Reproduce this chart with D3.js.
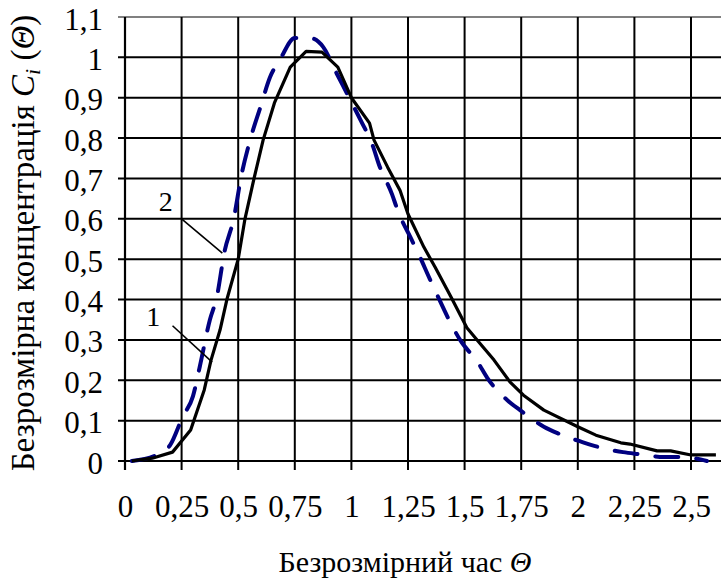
<!DOCTYPE html>
<html>
  <head>
    <meta charset="utf-8" />
    <script src="https://d3js.org/d3.v7.min.js"></script>
    <style>
      body { margin: 0; background: #fff; }
    </style>
  </head>
  <body>
    <div id="chart"></div>
    <script>
      // крива 1 (суцільна) та крива 2 (штрихова)
      const theta1 = [0.03, 0.12, 0.21, 0.29, 0.35, 0.38, 0.42, 0.45, 0.50, 0.53, 0.57, 0.61, 0.66, 0.73, 0.80, 0.87, 0.94,
                      1.00, 1.08, 1.10, 1.16, 1.215, 1.25, 1.32, 1.37, 1.44, 1.51, 1.57, 1.63, 1.70, 1.76, 1.85, 2.00, 2.08,
                      2.19, 2.23, 2.35, 2.41, 2.50, 2.61];
      const c1 = [0, 0.007, 0.022, 0.077, 0.176, 0.25, 0.325, 0.40, 0.50, 0.60, 0.70, 0.795, 0.887, 0.976, 1.015, 1.013, 0.976,
                  0.90, 0.837, 0.795, 0.728, 0.67, 0.612, 0.53, 0.48, 0.406, 0.33, 0.29, 0.25, 0.196, 0.163, 0.126, 0.085, 0.064,
                  0.045, 0.042, 0.025, 0.025, 0.015, 0.015];

      const theta2 = [0.03, 0.14, 0.20, 0.255, 0.30, 0.33, 0.375, 0.405, 0.44, 0.48, 0.515, 0.55, 0.60, 0.64, 0.685, 0.75, 0.817,
                      0.875, 0.935, 0.99, 1.04, 1.095, 1.12, 1.18, 1.205, 1.26, 1.295, 1.347, 1.38, 1.44, 1.48, 1.56, 1.60, 1.69,
                      1.745, 1.85, 1.91, 2.02, 2.09, 2.20, 2.27, 2.38, 2.46, 2.57];
      const c2 = [0, 0.015, 0.04, 0.11, 0.16, 0.233, 0.35, 0.405, 0.52, 0.60, 0.71, 0.79, 0.88, 0.95, 0.995, 1.048, 1.048,
                  1.026, 0.96, 0.90, 0.845, 0.78, 0.737, 0.66, 0.62, 0.555, 0.515, 0.45, 0.41, 0.34, 0.30, 0.243, 0.206, 0.15,
                  0.126, 0.085, 0.069, 0.047, 0.035, 0.022, 0.017, 0.01, 0.01, 0];

      const xTicks = [0, 0.25, 0.5, 0.75, 1, 1.25, 1.5, 1.75, 2, 2.25, 2.5];
      const xTickLabels = ["0", "0,25", "0,5", "0,75", "1", "1,25", "1,5", "1,75", "2", "2,25", "2,5"];
      const yTicks = [0, 0.1, 0.2, 0.3, 0.4, 0.5, 0.6, 0.7, 0.8, 0.9, 1, 1.1];
      const yTickLabels = ["0", "0,1", "0,2", "0,3", "0,4", "0,5", "0,6", "0,7", "0,8", "0,9", "1", "1,1"];

      // виноски з номерами кривих (в координатах даних)
      const callouts = [
        { label: "1", text: [0.125, 0.335], line: [[0.21, 0.335], [0.385, 0.245]] },
        { label: "2", text: [0.18, 0.62], line: [[0.25, 0.6], [0.43, 0.515]] }
      ];

      const W = 721, H = 583;
      const FONT = "Liberation Serif";
      const svg = d3.select("#chart").append("svg")
        .attr("width", W)
        .attr("height", H)
        .style("font-family", FONT);

      const x = d3.scaleLinear().domain([0, 2.5]).range([125, 691]);
      const y = d3.scaleLinear().domain([0, 1.1]).range([461, 17]);
      const fs = 31;

      // сітка
      const grid = svg.append("g");
      grid.selectAll(".hl").data(yTicks).enter().append("line")
        .attr("x1", 118).attr("x2", W)
        .attr("y1", d => y(d)).attr("y2", d => y(d))
        .attr("stroke", d => d === 1.1 ? "#808080" : "#000")
        .attr("stroke-width", 2);
      grid.selectAll(".vl").data(xTicks).enter().append("line")
        .attr("x1", d => x(d)).attr("x2", d => x(d))
        .attr("y1", y(1.1)).attr("y2", y(0) + 9)
        .attr("stroke", "#000")
        .attr("stroke-width", d => d === 0 ? 2.2 : 2);

      // осі з підписами
      const xAxis = svg.append("g")
        .attr("transform", "translate(0," + y(0) + ")")
        .call(d3.axisBottom(x).tickValues(xTicks).tickSize(0).tickFormat((d, i) => xTickLabels[i]));
      xAxis.attr("font-family", null).attr("font-size", null);
      xAxis.select(".domain").remove();
      xAxis.selectAll("text")
        .attr("y", 56).attr("dy", null)
        .style("font-size", fs + "px")
        .style("font-family", FONT);

      const yAxis = svg.append("g")
        .attr("transform", "translate(" + x(0) + ",0)")
        .call(d3.axisLeft(y).tickValues(yTicks).tickSize(0).tickFormat((d, i) => yTickLabels[i]));
      yAxis.attr("font-family", null).attr("font-size", null);
      yAxis.select(".domain").remove();
      yAxis.selectAll("text")
        .attr("x", -22).attr("dy", null).attr("y", 12)
        .style("font-size", fs + "px")
        .style("font-family", FONT);

      // криві
      const line = d3.line().x(d => x(d[0])).y(d => y(d[1]));
      svg.append("path")
        .datum(d3.zip(theta2, c2))
        .attr("d", line.curve(d3.curveMonotoneX))
        .attr("fill", "none")
        .attr("stroke", "#000080")
        .attr("stroke-width", 4)
        .attr("stroke-linecap", "round")
        .attr("stroke-dasharray", "23,18");
      svg.append("path")
        .attr("d", d3.line().x(d => x(d[0])).y(d => y(d[1]))(d3.zip(theta1, c1)))
        .attr("fill", "none")
        .attr("stroke", "#000")
        .attr("stroke-width", 3.2)
        .attr("stroke-linejoin", "round");

      // виноски
      callouts.forEach(c => {
        svg.append("line")
          .attr("x1", x(c.line[0][0])).attr("y1", y(c.line[0][1]))
          .attr("x2", x(c.line[1][0])).attr("y2", y(c.line[1][1]))
          .attr("stroke", "#000").attr("stroke-width", 1.6);
        svg.append("text")
          .attr("x", x(c.text[0])).attr("y", y(c.text[1]))
          .attr("text-anchor", "middle")
          .style("font-family", FONT)
          .style("font-size", "28px")
          .text(c.label);
      });

      // назви осей
      const xt = svg.append("text")
        .attr("x", 405).attr("y", 572)
        .attr("text-anchor", "middle")
        .style("font-family", FONT)
        .style("font-size", "30px");
      xt.append("tspan").text("Безрозмірний час ");
      xt.append("tspan").style("font-style", "italic").text("Θ");

      const yt = svg.append("text")
        .attr("transform", "translate(34,243) rotate(-90)")
        .attr("text-anchor", "middle")
        .style("font-family", FONT)
        .style("font-size", "33px");
      yt.append("tspan").text("Безрозмірна концентрація  ");
      yt.append("tspan").style("font-style", "italic").text("C");
      yt.append("tspan").style("font-style", "italic").style("font-size", "22px").attr("dy", 6).text("i");
      yt.append("tspan").attr("dy", -6).text(" (");
      yt.append("tspan").style("font-style", "italic").text("Θ");
      yt.append("tspan").text(")");
    </script>
  </body>
</html>
